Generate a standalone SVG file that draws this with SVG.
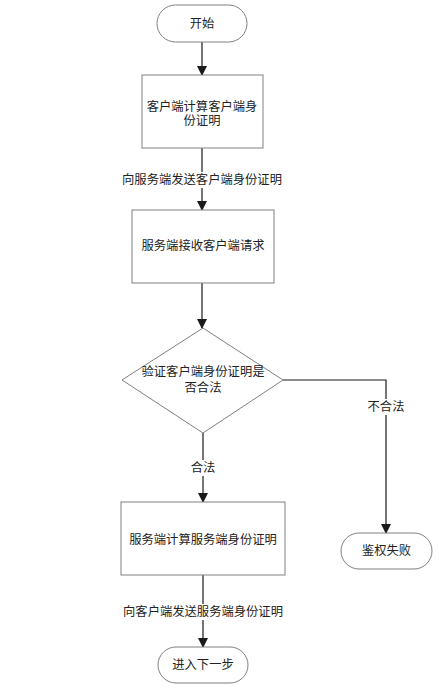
<svg xmlns="http://www.w3.org/2000/svg" width="439" height="697" viewBox="0 0 439 697">
<style>
.shape{fill:#ffffff;stroke:#808080;stroke-width:1}
.t{font-family:"Liberation Sans","Noto Sans CJK SC",sans-serif;font-size:12.3px;fill:#222;text-anchor:middle;dominant-baseline:central}
.edge{fill:none;stroke:#1a1a1a;stroke-width:1.2}
.lbl{fill:#ffffff}
</style>
<defs>
<marker id="arr" markerWidth="10" markerHeight="10" refX="9" refY="5" orient="auto" markerUnits="userSpaceOnUse">
<path d="M0,0 L10,5 L0,10 z" fill="#1a1a1a"/>
</marker>
</defs>
<rect width="439" height="697" fill="#ffffff"/>
<g id="connectors">
<line class="edge" x1="202" y1="42" x2="202" y2="75" marker-end="url(#arr)"/>
<line class="edge" x1="202" y1="148" x2="202" y2="210" marker-end="url(#arr)"/>
<rect class="lbl" x="120" y="172" width="166" height="16"/>
<text class="t" x="202" y="180">向服务端发送客户端身份证明</text>
<line class="edge" x1="202" y1="283" x2="202" y2="328" marker-end="url(#arr)"/>
<line class="edge" x1="203" y1="433" x2="203" y2="502" marker-end="url(#arr)"/>
<rect class="lbl" x="188" y="460" width="30" height="16"/>
<text class="t" x="203" y="468">合法</text>
<polyline class="edge" points="283,380 386,380 386,533" marker-end="url(#arr)"/>
<rect class="lbl" x="366" y="399" width="40" height="16"/>
<text class="t" x="386" y="407">不合法</text>
<line class="edge" x1="203" y1="575" x2="203" y2="647" marker-end="url(#arr)"/>
<rect class="lbl" x="120" y="604" width="166" height="16"/>
<text class="t" x="203" y="612">向客户端发送服务端身份证明</text>
</g>
<g id="start">
<rect class="shape" x="157" y="5" width="90" height="37" rx="18.5" ry="18.5"/>
<text class="t" x="202" y="23.5">开始</text>
</g>
<g id="client-compute">
<rect class="shape" x="142" y="75" width="121" height="73"/>
<text class="t" x="202" y="107">客户端计算客户端身</text>
<text class="t" x="202" y="121">份证明</text>
</g>
<g id="server-receive">
<rect class="shape" x="132" y="210" width="142" height="73"/>
<text class="t" x="203" y="246">服务端接收客户端请求</text>
</g>
<g id="verify">
<polygon class="shape" points="203,328 283,380 203,433 122,380"/>
<text class="t" x="203" y="372">验证客户端身份证明是</text>
<text class="t" x="203" y="388">否合法</text>
</g>
<g id="server-compute">
<rect class="shape" x="121" y="502" width="164" height="73"/>
<text class="t" x="203" y="540">服务端计算服务端身份证明</text>
</g>
<g id="fail">
<rect class="shape" x="341" y="533" width="91" height="36" rx="18" ry="18"/>
<text class="t" x="386.5" y="551">鉴权失败</text>
</g>
<g id="next">
<rect class="shape" x="158" y="647" width="90" height="36" rx="18" ry="18"/>
<text class="t" x="203" y="665">进入下一步</text>
</g>
</svg>
